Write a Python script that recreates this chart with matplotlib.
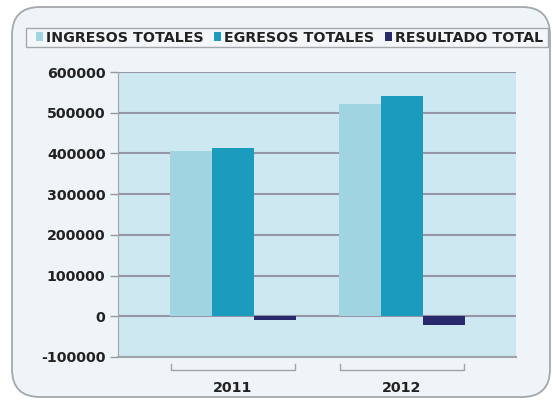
import matplotlib.pyplot as plt
import numpy as np
from matplotlib.patches import FancyBboxPatch, Patch, Rectangle
from matplotlib.transforms import IdentityTransform, blended_transform_factory

years = ["2011", "2012"]
ingresos = [405000, 522000]
egresos = [413000, 540000]
resultado = [-10000, -22000]
series = ["INGRESOS TOTALES", "EGRESOS TOTALES", "RESULTADO TOTAL"]
colors = ["#a0d4e1", "#1b9bbe", "#29296e"]
yticks = [-100000, 0, 100000, 200000, 300000, 400000, 500000, 600000]

fig = plt.figure(figsize=(5.53, 4.0), dpi=100)
fig.patch.set_facecolor("white")

# rounded outer panel, in pixels
panel = FancyBboxPatch((12, 3), 538, 390, boxstyle="round,pad=0,rounding_size=28",
                       transform=IdentityTransform(), facecolor="#eef4f7",
                       edgecolor="#a4a8ac", linewidth=1.3, zorder=-5)
fig.patches.append(panel)
# legend box
legbox = Rectangle((26, 400 - 47), 522, 19, transform=IdentityTransform(),
                   facecolor="#f4f7f9", edgecolor="#a4a8ac", linewidth=1, zorder=-4)
fig.patches.append(legbox)

ax = fig.add_axes([118 / 553, 1 - 357 / 400, 398 / 553, 285 / 400])
ax.set_facecolor("#cde8f1")

x = np.arange(len(years))
w = 0.25
ax.bar(x - w, ingresos, w, color=colors[0], zorder=3)
ax.bar(x, egresos, w, color=colors[1], zorder=3)
ax.bar(x + w, resultado, w, color=colors[2], zorder=3)

ax.set_ylim(-100000, 600000)
ax.set_xlim(-0.68, 1.675)
ax.set_yticks(yticks)
ax.set_yticklabels([str(v) for v in yticks], fontsize=10.3, fontweight="bold", color="#222222")
ax.yaxis.grid(True, color="#9696a8", linewidth=1.5, zorder=1)
ax.set_axisbelow(True)
ax.tick_params(axis="y", length=6, color="#999999", width=1, pad=3)

ax.set_xticks(x)
ax.set_xticklabels(years, fontsize=10.3, fontweight="bold", color="#222222")
ax.tick_params(axis="x", length=0, pad=17)

for s in ["top", "right"]:
    ax.spines[s].set_visible(False)
ax.spines["left"].set_color("#a0a4a8")
ax.spines["bottom"].set_color("#a0a4a8")
ax.spines["bottom"].set_linewidth(1.5)

# brackets under each year group
tr = blended_transform_factory(ax.transData, ax.transAxes)
for xi in x:
    x0, x1 = xi - 1.5 * w + 0.01, xi + 1.5 * w - 0.01
    ax.plot([x0, x0, x1, x1], [-0.025, -0.045, -0.045, -0.025], color="#a0a4a8",
            linewidth=1, transform=tr, clip_on=False)

handles = [Patch(facecolor=c, edgecolor="none") for c in colors]
leg = fig.legend(handles, series, loc="center", bbox_to_anchor=(0.523, 1 - 37.5 / 400),
                 ncol=3, frameon=False, handlelength=0.5, handleheight=0.55,
                 handletextpad=0.2, columnspacing=0.75, borderpad=0.25, borderaxespad=0,
                 prop={"weight": "bold", "size": 10.3})
for t in leg.get_texts():
    t.set_color("#222222")

fig.savefig("out.png", dpi=100)
